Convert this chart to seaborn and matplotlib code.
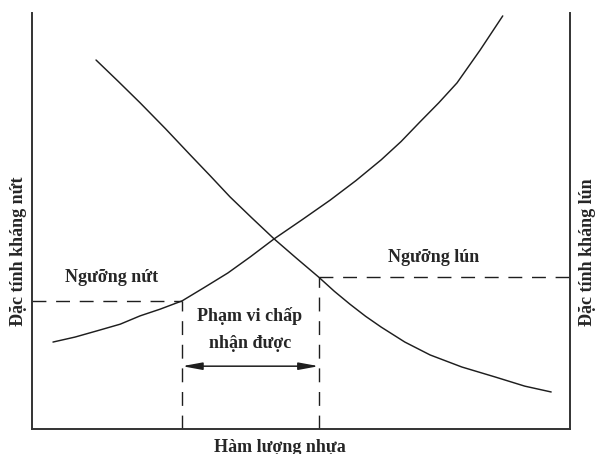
import pandas as pd
import seaborn as sns
from matplotlib import pyplot as plt

# Hàm lượng nhựa (x) và đặc tính (y), thang tuỳ ý 0-100
crack_x = [3.9, 8.0, 12.1, 16.4, 20.1, 23.8, 27.9, 32.0, 36.4, 40.6, 45.0, 50.2, 55.4, 60.2, 64.9, 68.6, 72.1, 75.6, 79.0, 83.3, 87.5]
crack_y = [20.9, 22.1, 23.6, 25.2, 27.2, 28.8, 30.8, 34.0, 37.5, 41.4, 45.7, 50.3, 55.0, 59.7, 64.7, 69.1, 73.8, 78.4, 83.2, 91.1, 99.3]

rut_x = [11.9, 16.0, 20.1, 24.8, 29.4, 33.1, 36.8, 40.9, 45.0, 49.2, 53.3, 56.2, 59.1, 62.0, 64.9, 69.3, 74.0, 79.9, 86.1, 91.6, 96.5]
rut_y = [88.7, 83.6, 78.4, 72.2, 65.9, 60.9, 55.8, 50.7, 45.7, 41.0, 36.5, 33.1, 30.0, 27.1, 24.5, 20.9, 17.8, 14.9, 12.5, 10.3, 8.9]

# ngưỡng nứt / ngưỡng lún
crack_limit_x, crack_limit_y = 27.9, 30.8
rut_limit_x, rut_limit_y = 53.3, 36.5
range_arrow_y = 15.1

labels = {
    "x": "Hàm lượng nhựa",
    "y_left": "Đặc tính kháng nứt",
    "y_right": "Đặc tính kháng lún",
    "crack": "Ngưỡng nứt",
    "rut": "Ngưỡng lún",
    "range": "Phạm vi chấp\nnhận được",
}

df_crack = pd.DataFrame({"x": crack_x, "y": crack_y})
df_rut = pd.DataFrame({"x": rut_x, "y": rut_y})

sns.set_style("white")
plt.rcParams["font.family"] = ["Liberation Serif", "DejaVu Serif"]
plt.rcParams["font.weight"] = "bold"

fig = plt.figure(figsize=(5.97, 4.54), dpi=100)
ax = fig.add_axes([32 / 597, 25 / 454, 538 / 597, 416 / 454])

line_col = "#1e1e1e"
sns.lineplot(data=df_crack, x="x", y="y", sort=False, estimator=None, color=line_col, lw=1.05, ax=ax)
sns.lineplot(data=df_rut, x="x", y="y", sort=False, estimator=None, color=line_col, lw=1.05, ax=ax)

dash = (0, (10, 7))
ax.plot([0, crack_limit_x], [crack_limit_y, crack_limit_y], color=line_col, lw=1.0, ls=dash)
ax.plot([crack_limit_x, crack_limit_x], [0, crack_limit_y], color=line_col, lw=1.0, ls=dash)
ax.plot([rut_limit_x, 100], [rut_limit_y, rut_limit_y], color=line_col, lw=1.0, ls=dash)
ax.plot([rut_limit_x, rut_limit_x], [0, rut_limit_y], color=line_col, lw=1.0, ls=dash)

ax.annotate("", xy=(crack_limit_x, range_arrow_y), xytext=(rut_limit_x, range_arrow_y),
            arrowprops=dict(arrowstyle="<|-|>,head_length=1.2,head_width=0.22",
                            color=line_col, lw=1.1, shrinkA=0, shrinkB=0, mutation_scale=10))

ax.text(14.7, 36.3, labels["crack"], ha="center", va="center", fontsize=13, weight="bold")
ax.text(74.7, 41.3, labels["rut"], ha="center", va="center", fontsize=13, weight="bold")
ax.text(40.5, 24.0, labels["range"], ha="center", va="center", fontsize=13, weight="bold",
        linespacing=1.75)

ax.set_xlim(0, 100)
ax.set_ylim(0, 100)
ax.set_xticks([])
ax.set_yticks([])
for side in ["left", "right", "bottom"]:
    ax.spines[side].set_color("#333333")
    ax.spines[side].set_linewidth(1.4)
ax.spines["top"].set_visible(False)

ax.set_xlabel(labels["x"], fontsize=13, weight="bold", va="center")
ax.xaxis.set_label_coords((280 - 32) / 538, (429 - 447) / 416)
ax.set_ylabel(labels["y_left"], fontsize=13, weight="bold", va="center")
ax.yaxis.set_label_coords((19 - 32) / 538, (429 - 251) / 416)

ax2 = ax.twinx()
ax2.set_ylim(0, 100)
ax2.set_yticks([])
for s in ax2.spines.values():
    s.set_visible(False)
ax2.set_ylabel(labels["y_right"], fontsize=13, weight="bold", va="center", rotation=90)
ax2.yaxis.set_label_coords((587 - 32) / 538, (429 - 252) / 416)

fig.savefig("out.png", dpi=100)
